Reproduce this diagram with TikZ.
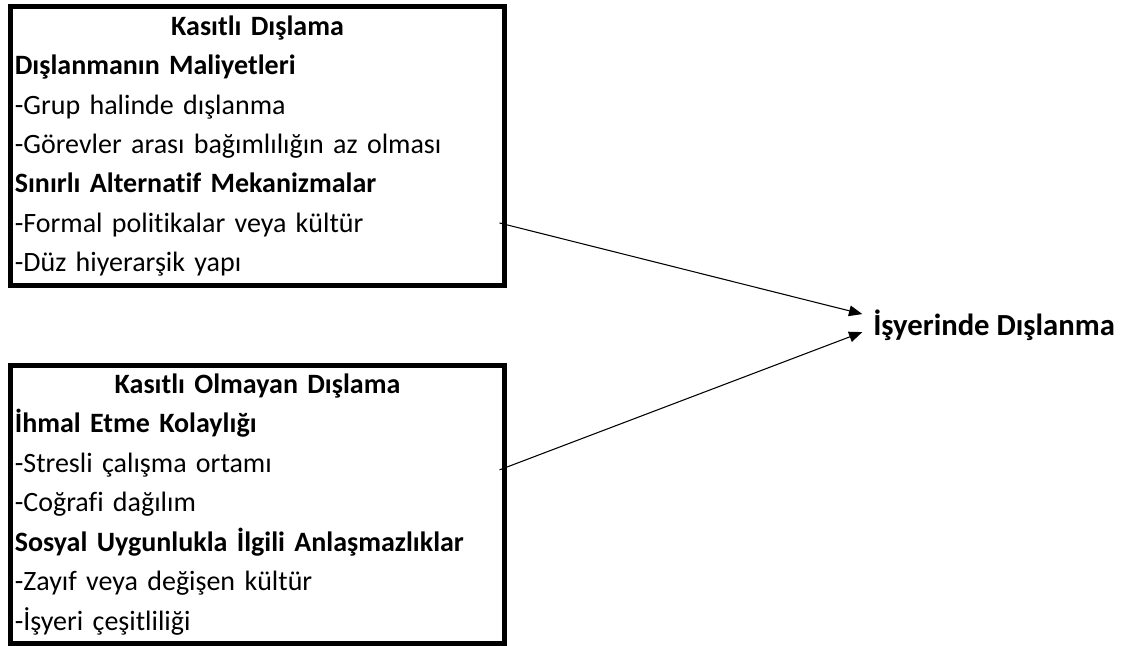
\documentclass[tikz,border=0pt]{standalone}
\usepackage{fontspec}
\setmainfont{Carlito}[Ligatures=NoCommon]
\usepackage{tikz}
\usetikzlibrary{positioning,arrows.meta}

\begin{document}
\begin{tikzpicture}[x=0.75pt, y=-0.75pt,
    % Box styles
    factor/.style={draw, line width=3.6pt, minimum width=370.5pt, inner xsep=2pt, inner ysep=0pt,
                   text width=364pt, font=\fontsize{21}{29.6}\selectfont},
    outcome/.style={font=\fontsize{23}{28}\selectfont\bfseries, anchor=base west, inner sep=0pt},
    arrow/.style={-{Triangle[length=10pt, width=8pt]}, line width=0.8pt},
  ]
  \useasboundingbox (0,0) rectangle (1128,646);

  % ===== LEFT: two kinds of exclusion =====
  \node[factor, minimum height=209.3pt] (kasitli) at (257.5, 146) {%
    \centering\textbf{Kasıtlı Dışlama}\par
    \raggedright
    \textbf{Dışlanmanın Maliyetleri}\\
    -Grup halinde dışlanma\\
    -Görevler arası bağımlılığın az olması\\
    \textbf{Sınırlı Alternatif Mekanizmalar}\\
    -Formal politikalar veya kültür\\
    -Düz hiyerarşik yapı\par};

  \node[factor, minimum height=208.5pt] (olmayan) at (257.5, 504.5) {%
    \centering\textbf{Kasıtlı Olmayan Dışlama}\par
    \raggedright
    \textbf{İhmal Etme Kolaylığı}\\
    -Stresli çalışma ortamı\\
    -Coğrafi dağılım\\
    \textbf{Sosyal Uygunlukla İlgili Anlaşmazlıklar}\\
    -Zayıf veya değişen kültür\\
    -İşyeri çeşitliliği\par};

  % ===== RIGHT: outcome =====
  \node[outcome] (isyeri) at (873, 335) {İşyerinde Dışlanma};

  % Arrows
  \draw[arrow] ([xshift=-5.5pt, yshift=-57.75pt]kasitli.east) -- ([xshift=-8pt, yshift=8pt]isyeri.west);
  \draw[arrow] ([xshift=-5.5pt, yshift=26pt]olmayan.east) -- ([xshift=-8pt, yshift=-5.5pt]isyeri.west);

\end{tikzpicture}
\end{document}
